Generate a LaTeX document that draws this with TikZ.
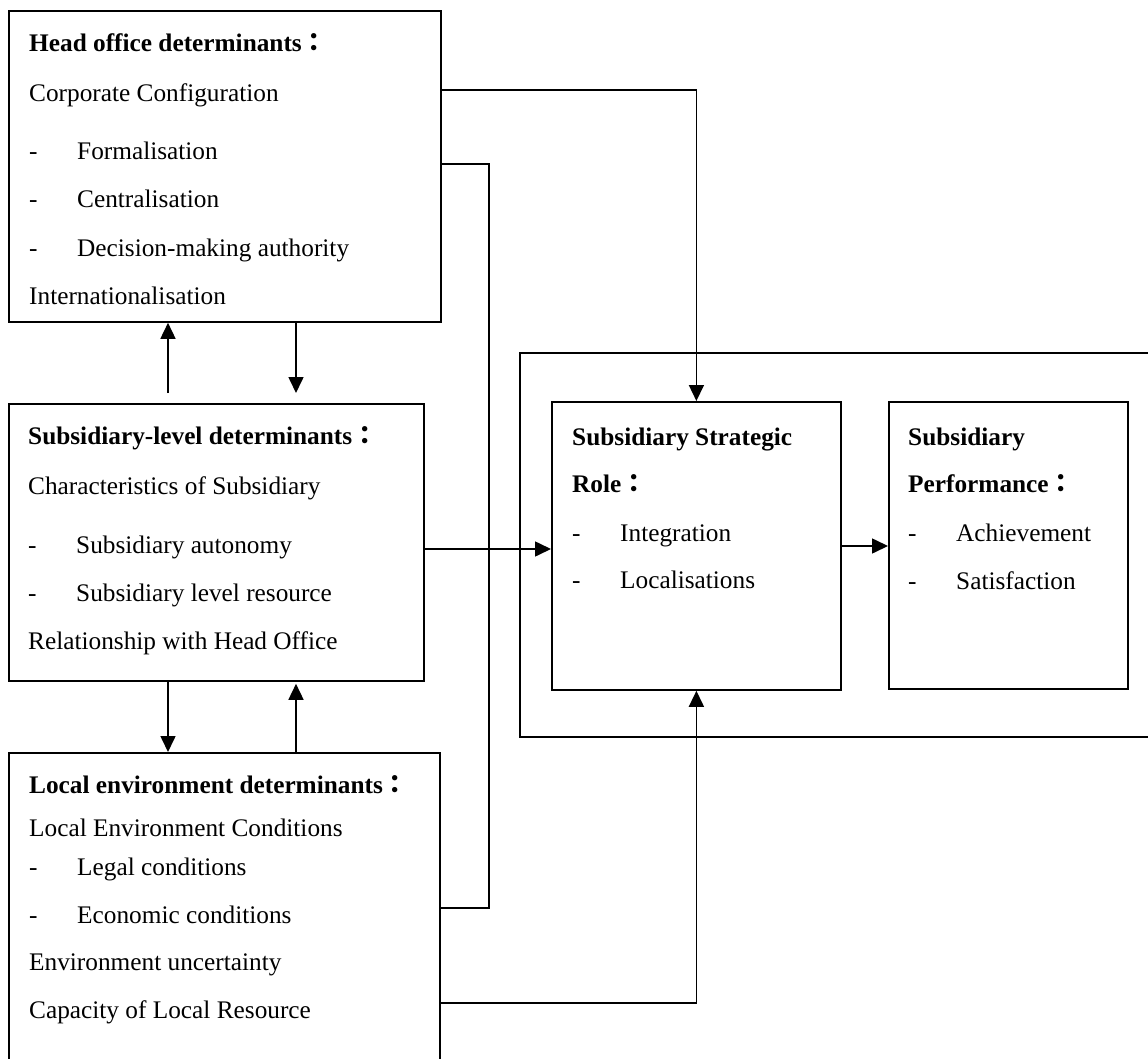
\documentclass[tikz,border=0pt]{standalone}
\usepackage{fontspec}
\setmainfont{Liberation Serif}
\newfontfamily\cjkfont{Noto Sans CJK TC}
\usetikzlibrary{arrows.meta}
\newcommand\fwcolon{{\cjkfont ：}}
\begin{document}
\begin{tikzpicture}[x=1pt,y=-1pt,
  box/.style={draw,line width=1.8pt,rectangle,anchor=north west,inner sep=0pt},
  txt/.style={anchor=base west,inner sep=0pt,font=\fontsize{25.3pt}{30pt}\selectfont},
  ttl/.style={txt,font=\fontsize{25.3pt}{30pt}\selectfont\bfseries},
  conn/.style={line width=1.6pt},
  arr/.style={conn,-{Triangle[length=16pt,width=15pt]}}]
\useasboundingbox (0,0) rectangle (1148,1059);
% boxes
\node[box,minimum width=432pt,minimum height=311pt] (head) at (8,10) {};
\node[box,minimum width=415pt,minimum height=277pt] (sub) at (8,403) {};
\node[box,minimum width=431pt,minimum height=330pt] (local) at (8,752) {};
\node[box,minimum width=650pt,minimum height=384pt] (frame) at (519,352) {};
\node[box,minimum width=289pt,minimum height=288pt] (ssr) at (551,401) {};
\node[box,minimum width=239pt,minimum height=287pt] (sp) at (888,401) {};
% head office text
\node[ttl] (h0) at (29,52) {Head office determinants\fwcolon};
\node[txt] (h1) at (29,102) {Corporate Configuration};
\node[txt] (h2a) at (29,160) {-};
\node[txt] (h2) at (77,160) {Formalisation};
\node[txt] (h3a) at (29,208) {-};
\node[txt] (h3) at (77,208) {Centralisation};
\node[txt] (h4a) at (29,257) {-};
\node[txt] (h4) at (77,257) {Decision-making authority};
\node[txt] (h5) at (29,304) {Internationalisation};
% subsidiary text
\node[ttl] (s0) at (28,444) {Subsidiary-level determinants\fwcolon};
\node[txt] (s1) at (28,494) {Characteristics of Subsidiary};
\node[txt] (s2a) at (28,553) {-};
\node[txt] (s2) at (76,553) {Subsidiary autonomy};
\node[txt] (s3a) at (28,601) {-};
\node[txt] (s3) at (76,601) {Subsidiary level resource};
\node[txt] (s4) at (28,649) {Relationship with Head Office};
% local text
\node[ttl] (l0) at (29,793) {Local environment determinants\fwcolon};
\node[txt] (l1) at (29,836) {Local Environment Conditions};
\node[txt] (l2a) at (29,875) {-};
\node[txt] (l2) at (77,875) {Legal conditions};
\node[txt] (l3a) at (29,923) {-};
\node[txt] (l3) at (77,923) {Economic conditions};
\node[txt] (l4) at (29,970) {Environment uncertainty};
\node[txt] (l5) at (29,1018) {Capacity of Local Resource};
% strategic role text
\node[ttl] (r0) at (572,445) {Subsidiary Strategic};
\node[ttl] (r1) at (572,492) {Role\fwcolon};
\node[txt] (r2a) at (572,541) {-};
\node[txt] (r2) at (620,541) {Integration};
\node[txt] (r3a) at (572,588) {-};
\node[txt] (r3) at (620,588) {Localisations};
% performance text
\node[ttl] (p0) at (908,445) {Subsidiary};
\node[ttl] (p1) at (908,492) {Performance\fwcolon};
\node[txt] (p2a) at (908,541) {-};
\node[txt] (p2) at (956,541) {Achievement};
\node[txt] (p3a) at (908,589) {-};
\node[txt] (p3) at (956,589) {Satisfaction};
% connector coordinates
\path (head.north east) ++(0,80) coordinate (hoA);
\path (head.north east) ++(0,154) coordinate (hoB);
\path (local.north east) ++(0,156) coordinate (leB);
\path (local.north east) ++(0,251) coordinate (leC);
\path (sub.north east) ++(0,146) coordinate (sbA);
\path (ssr.north east) ++(0,145) coordinate (srA);
\coordinate (u1) at ([xshift=160pt,yshift=10pt]sub.north west);
\coordinate (d1) at ([xshift=288pt,yshift=10pt]sub.north west);
\coordinate (u2) at ([xshift=160pt]sub.south west);
\coordinate (d2) at ([xshift=288pt,yshift=-2pt]sub.south west);
% connectors
\draw[arr] (hoA) -| (ssr.north);
\draw[conn] (hoB) -- ++(47,0) |- (leB);
\draw[arr] (sbA) -- (sbA -| ssr.west);
\draw[arr] (srA) -- (srA -| sp.west);
\draw[arr] (leC) -| (ssr.south);
\draw[arr] (u1) -- (u1 |- head.south);
\draw[arr] (d1 |- head.south) -- (d1);
\draw[arr] (u2) -- (u2 |- local.north);
\draw[arr] (d2 |- local.north) -- (d2);
\end{tikzpicture}
\end{document}
